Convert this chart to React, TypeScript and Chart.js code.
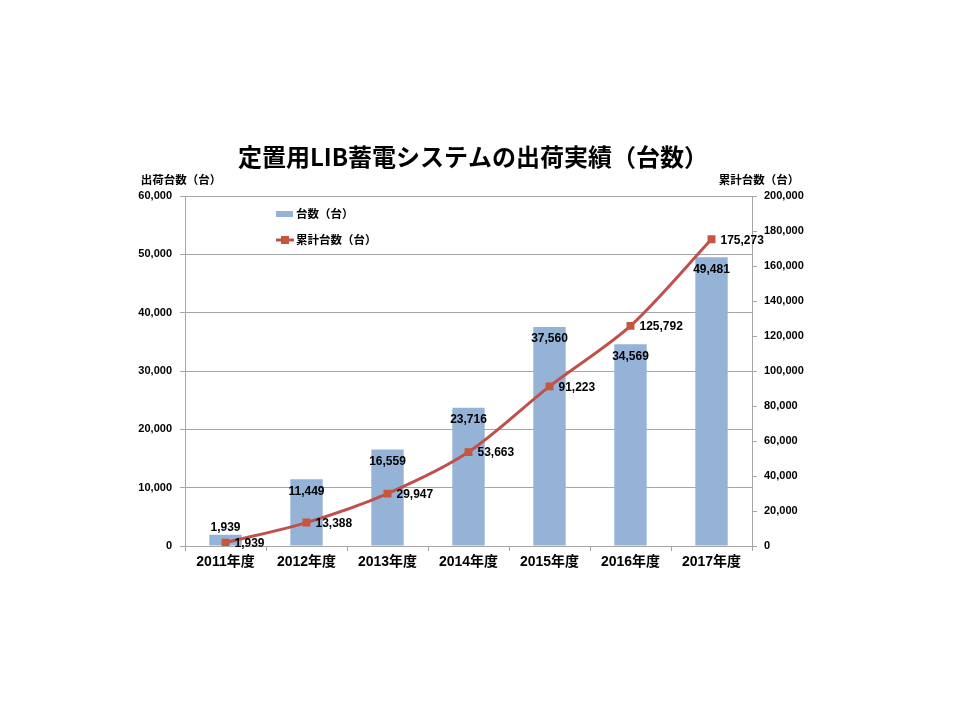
import React, { useEffect, useRef } from "react";
import { Chart, registerables } from "chart.js";

Chart.register(...registerables);

const categories = ["2011年度", "2012年度", "2013年度", "2014年度", "2015年度", "2016年度", "2017年度"];
const unitsShipped = [1939, 11449, 16559, 23716, 37560, 34569, 49481];
const cumulativeUnits = [1939, 13388, 29947, 53663, 91223, 125792, 175273];

const titleText = "定置用LIB蓄電システムの出荷実績（台数）";
const leftAxisTitle = "出荷台数（台）";
const rightAxisTitle = "累計台数（台）";
const barLabel = "台数（台）";
const lineLabel = "累計台数（台）";

const BAR_COLOR = "#95B3D7";
const LINE_COLOR = "#C0504D";
const MARKER_COLOR = "#C4573E";
const GRID_COLOR = "#A6A6A6";
const NUM_FONT = '"Liberation Sans", "Noto Sans CJK JP", sans-serif';
const CJK_FONT = '"Noto Sans CJK JP", "Liberation Sans", sans-serif';

const fmt = (v: number) => v.toLocaleString("en-US");

const overlayPlugin = {
  id: "overlay",
  afterDatasetsDraw(chart: any) {
    const ctx = chart.ctx;
    ctx.save();
    ctx.fillStyle = "#000";
    ctx.textBaseline = "middle";
    // bar labels
    const barMeta = chart.getDatasetMeta(0);
    ctx.font = `bold 12px ${NUM_FONT}`;
    ctx.textAlign = "center";
    barMeta.data.forEach((el: any, i: number) => {
      const h = el.base - el.y;
      const y = h < 24 ? el.y - 7 : el.y + 12;
      ctx.fillText(fmt(unitsShipped[i]), el.x, y);
    });
    // line labels
    const lineMeta = chart.getDatasetMeta(1);
    ctx.textAlign = "left";
    lineMeta.data.forEach((el: any, i: number) => {
      ctx.fillText(fmt(cumulativeUnits[i]), el.x + 9, el.y + 1);
    });
    ctx.restore();
  },
  afterDraw(chart: any) {
    const ctx = chart.ctx;
    const area = chart.chartArea;
    ctx.save();
    ctx.fillStyle = "#000";
    ctx.textBaseline = "middle";
    // title
    ctx.font = `bold 24px ${CJK_FONT}`;
    ctx.textAlign = "center";
    ctx.fillText(titleText, 473, 157);
    // axis titles
    ctx.font = `bold 11.5px ${CJK_FONT}`;
    ctx.fillText(leftAxisTitle, 181, 180);
    ctx.fillText(rightAxisTitle, 759, 180);
    // legend
    const lx = 276;
    const ly1 = 214;
    const ly2 = 240;
    ctx.fillStyle = BAR_COLOR;
    ctx.fillRect(lx, ly1 - 3, 17, 6);
    ctx.strokeStyle = LINE_COLOR;
    ctx.lineWidth = 3;
    ctx.beginPath();
    ctx.moveTo(lx, ly2);
    ctx.lineTo(lx + 18, ly2);
    ctx.stroke();
    ctx.fillStyle = MARKER_COLOR;
    ctx.fillRect(lx + 5, ly2 - 4, 8, 8);
    ctx.fillStyle = "#000";
    ctx.textAlign = "left";
    ctx.font = `bold 11.5px ${CJK_FONT}`;
    ctx.fillText(barLabel, lx + 20, ly1);
    ctx.fillText(lineLabel, lx + 20, ly2);
    ctx.restore();
    void area;
  },
};

export default function App() {
  const ref = useRef<HTMLCanvasElement | null>(null);

  useEffect(() => {
    if (!ref.current) return;
    const chart = new Chart(ref.current, {
      type: "bar",
      data: {
        labels: categories,
        datasets: [
          {
            type: "bar",
            label: barLabel,
            data: unitsShipped,
            backgroundColor: BAR_COLOR,
            yAxisID: "y",
            order: 2,
            barPercentage: 0.4,
            categoryPercentage: 1,
          },
          {
            type: "line",
            label: lineLabel,
            data: cumulativeUnits,
            borderColor: LINE_COLOR,
            borderWidth: 3,
            backgroundColor: MARKER_COLOR,
            pointBackgroundColor: MARKER_COLOR,
            pointBorderColor: MARKER_COLOR,
            pointBorderWidth: 0,
            pointStyle: "rect",
            pointRadius: 5.6,
            tension: 0.3,
            yAxisID: "y1",
            order: 1,
          } as any,
        ],
      },
      options: {
        responsive: false,
        animation: false,
        devicePixelRatio: 1,
        layout: { padding: { top: 196, left: 0, right: 0, bottom: 0 } },
        plugins: {
          legend: { display: false },
          title: { display: false },
          tooltip: { enabled: false },
        },
        scales: {
          x: {
            type: "category",
            offset: true,
            grid: {
              display: true,
              offset: true,
              drawOnChartArea: false,
              drawTicks: true,
              tickLength: 5,
              color: GRID_COLOR,
            },
            border: { display: true, color: GRID_COLOR },
            ticks: {
              color: "#000",
              font: { family: NUM_FONT, size: 14, weight: "bold" },
              padding: 3,
              maxRotation: 0,
            },
            afterFit(scale: any) {
              scale.height = 174;
            },
          },
          y: {
            position: "left",
            min: 0,
            max: 60000,
            ticks: {
              stepSize: 10000,
              color: "#000",
              font: { family: NUM_FONT, size: 11, weight: "bold" },
              padding: 8,
              callback: (v: any) => fmt(Number(v)),
            },
            grid: {
              color: GRID_COLOR,
              drawTicks: true,
              tickLength: 5,
            },
            border: { display: true, color: GRID_COLOR },
            afterFit(scale: any) {
              scale.width = 185;
            },
          },
          y1: {
            position: "right",
            min: 0,
            max: 200000,
            ticks: {
              stepSize: 20000,
              color: "#000",
              font: { family: NUM_FONT, size: 11, weight: "bold" },
              padding: 7,
              callback: (v: any) => fmt(Number(v)),
            },
            grid: {
              color: GRID_COLOR,
              drawOnChartArea: false,
              drawTicks: true,
              tickLength: 5,
            },
            border: { display: true, color: GRID_COLOR },
            afterFit(scale: any) {
              scale.width = 208;
            },
          },
        },
      } as any,
      plugins: [overlayPlugin],
    });
    return () => chart.destroy();
  }, []);

  return (
    <div style={{ position: "fixed", left: 0, top: 0, width: 960, height: 720, background: "#fff" }}>
      <canvas ref={ref} width={960} height={720} style={{ width: 960, height: 720, display: "block" }} />
    </div>
  );
}
